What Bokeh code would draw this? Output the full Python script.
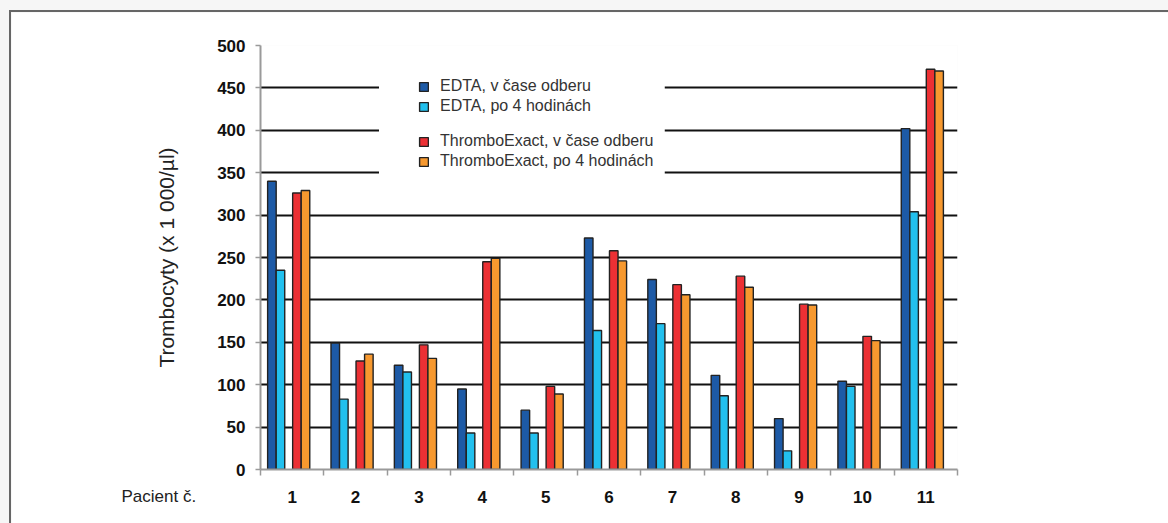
from bokeh.plotting import figure
from bokeh.models import (Range1d, FixedTicker, Legend, LegendItem, BoxAnnotation,
                          Label, GlobalInlineStyleSheet, ColumnDataSource)
from bokeh.transform import dodge
from bokeh.embed import file_html
from bokeh.resources import INLINE

patients = list(range(1, 12))
tick_labels = [str(i) for i in patients]
y_ticks = list(range(0, 501, 50))
series_names = ["EDTA, v čase odberu", "EDTA, po 4 hodinách",
                "ThromboExact, v čase odberu", "ThromboExact, po 4 hodinách"]
edta_0 = [340, 149, 123, 95, 70, 273, 224, 111, 60, 104, 402]
edta_4 = [235, 83, 115, 43, 43, 164, 172, 87, 22, 98, 304]
te_0 = [326, 128, 147, 245, 98, 258, 218, 228, 195, 157, 472]
te_4 = [329, 136, 131, 249, 89, 246, 206, 215, 194, 152, 470]
colors = ["#1d5aa6", "#22c0ee", "#ec3034", "#f7992f"]

FONT = "Liberation Sans"

src = ColumnDataSource(dict(x=patients, e0=edta_0, e4=edta_4, t0=te_0, t4=te_4))

p = figure(width=1159, height=513, output_backend="svg", toolbar_location=None,
           x_range=Range1d(0.5, 11.5), y_range=Range1d(0, 500),
           min_border_left=249, min_border_right=213, min_border_top=33,
           min_border_bottom=56)
p.styles = {"border-left": "2px solid #666", "border-top": "2px solid #666",
            "margin-left": "9px", "margin-top": "10px"}
p.stylesheets = [GlobalInlineStyleSheet(
    css="html, body { margin: 0 !important; padding: 0 !important; background-color: #f6f6f6; overflow: hidden; }")]
p.background_fill_color = "white"
p.border_fill_color = "white"
p.outline_line_color = None

# grid
p.xgrid.visible = False
p.ygrid.ticker = FixedTicker(ticks=y_ticks[1:])
p.ygrid.grid_line_color = "#111111"
p.ygrid.grid_line_width = 2

# white area behind legend
box = BoxAnnotation(left=2.37, right=6.88, top=484, bottom=330, fill_color="white",
                    fill_alpha=1.0, line_color=None, level="underlay")
p.add_layout(box)

offsets = [-0.32, -0.185, 0.075, 0.21]
cols = ["e0", "e4", "t0", "t4"]
rs = []
for c, off, col in zip(cols, offsets, colors):
    r = p.vbar(x=dodge("x", off, range=p.x_range), top=c, width=0.135, bottom=0,
               source=src, fill_color=col, line_color="#222222", line_width=1.4)
    rs.append(r)

# axes
yax = p.yaxis[0]
yax.ticker = FixedTicker(ticks=y_ticks)
yax.axis_line_color = "#9a9a9a"
yax.axis_line_width = 2
yax.major_tick_line_color = "#9a9a9a"
yax.major_tick_line_width = 1.5
yax.major_tick_out = 5
yax.major_tick_in = 0
yax.minor_tick_line_color = None
yax.major_label_text_font = FONT
yax.major_label_text_font_style = "bold"
yax.major_label_text_font_size = "17px"
yax.major_label_text_color = "#111111"
yax.major_label_standoff = 10
yax.axis_label = "Trombocyty (x 1 000/µl)"
yax.axis_label_text_font = FONT
yax.axis_label_text_font_style = "normal"
yax.axis_label_text_font_size = "21px"
yax.axis_label_text_color = "#222222"
yax.axis_label_standoff = 36

xax = p.xaxis[0]
xax.ticker = FixedTicker(ticks=patients, minor_ticks=[i - 0.5 for i in range(1, 13)])
xax.major_label_overrides = {i: t for i, t in zip(patients, tick_labels)}
xax.axis_line_color = "#9a9a9a"
xax.axis_line_width = 2
xax.major_tick_line_color = None
xax.major_tick_out = 0
xax.major_tick_in = 0
xax.minor_tick_line_color = "#9a9a9a"
xax.minor_tick_line_width = 1.5
xax.minor_tick_out = 6
xax.minor_tick_in = 0
xax.major_label_text_font = FONT
xax.major_label_text_font_style = "bold"
xax.major_label_text_font_size = "17px"
xax.major_label_text_color = "#111111"
xax.major_label_standoff = 15

pac = Label(x=44, y=-27, x_units="screen", y_units="screen",
            text="Pacient č.", text_font=FONT,
            text_font_size="17px", text_color="#222222",
            text_baseline="middle", text_align="left")
p.add_layout(pac, "left")

def make_legend(items, vy):
    lg = Legend(items=items, location=(158, vy), orientation="vertical",
                label_text_font=FONT, label_text_font_size="16px",
                label_text_color="#333333", glyph_width=11, glyph_height=11,
                label_standoff=11, spacing=0, padding=0, margin=0,
                label_height=20, background_fill_alpha=0, border_line_color=None)
    return lg

lg1 = make_legend([LegendItem(label=series_names[0], renderers=[rs[0]]),
                   LegendItem(label=series_names[1], renderers=[rs[1]])], 353)
lg2 = make_legend([LegendItem(label=series_names[2], renderers=[rs[2]]),
                   LegendItem(label=series_names[3], renderers=[rs[3]])], 298)
p.add_layout(lg1)
p.add_layout(lg2)

open("out.html", "w").write(file_html(p, INLINE))
